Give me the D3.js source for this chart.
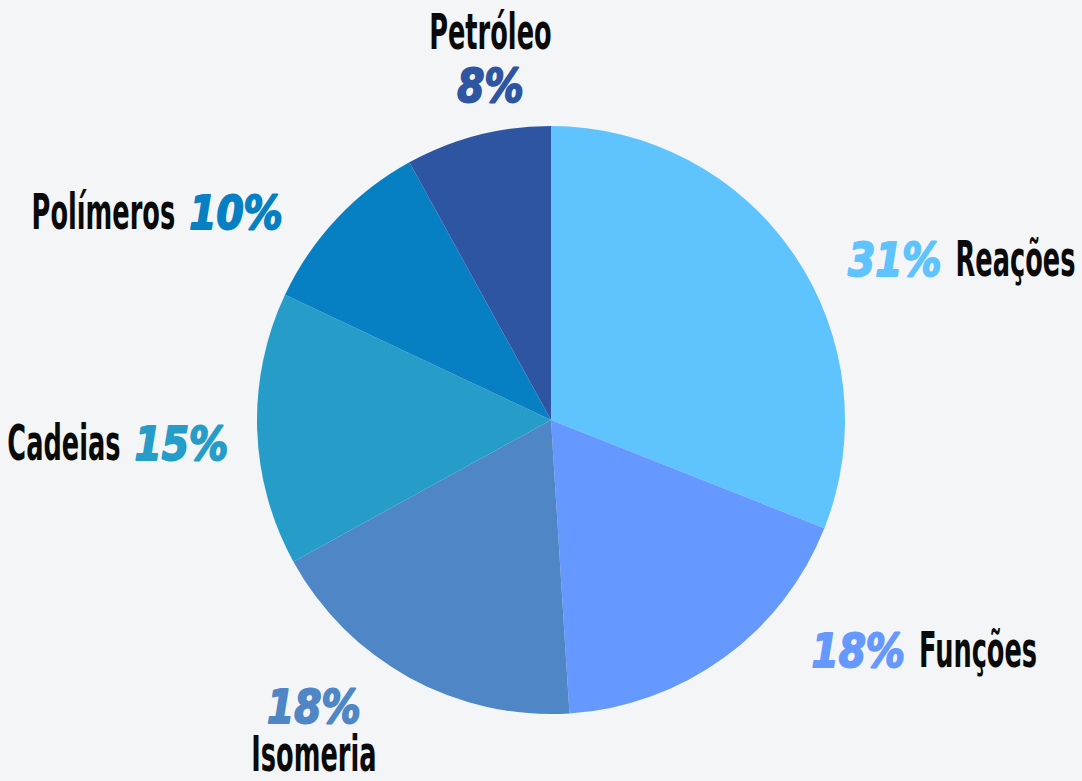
<!DOCTYPE html>
<html>
<head>
<meta charset="utf-8">
<script src="https://cdn.jsdelivr.net/npm/d3@7"></script>
<style>
  html, body { margin: 0; padding: 0; background: #f4f5f6; }
  svg { display: block; }
  .name { font-family: "DejaVu Sans Condensed", "DejaVu Sans", sans-serif; font-weight: bold; font-stretch: condensed; fill: #0a0a0a; }
  .pct { font-family: "DejaVu Sans", sans-serif; font-weight: bold; font-style: italic; }
</style>
</head>
<body>
<div id="chart"></div>
<script>
const categories = ["Reações", "Funções", "Isomeria", "Cadeias", "Polímeros", "Petróleo"];
const values = [31, 18, 18, 15, 10, 8];
const colors = ["#5fc3fe", "#6699ff", "#4f86c6", "#269dc8", "#0780c3", "#2e55a2"];

// how each label sits next to its slice
const labelLayout = {
	"Reações":   {mode: "pct-name", align: "start",  dx: 29,  dy: 38},
	"Funções":   {mode: "pct-name", align: "start",  dx: 70,  dy: -15},
	"Isomeria":  {mode: "pct-over", align: "middle", dx: -81, dy: 19, gap: 48},
	"Cadeias":   {mode: "name-pct", align: "end",    dx: 1,   dy: 30},
	"Polímeros": {mode: "name-pct", align: "end",    dx: -32, dy: 31},
	"Petróleo":  {mode: "name-over", align: "middle", dx: 20, dy: -4, gap: 53}
};

const width = 1082, height = 781;
const cx = 551, cy = 420, radius = 294;
const nameSize = 50, nameScale = 0.57;
const pctSize = 46, pctScale = 0.85;
const gap = 14;

const data = categories.map((c, i) => ({name: c, value: values[i], color: colors[i]}));

const svg = d3.select("#chart")
	.append("svg")
	.attr("width", width)
	.attr("height", height);

const pie = d3.pie().sort(null).value(d => d.value);
const arc = d3.arc().innerRadius(0).outerRadius(radius);
const arcs = pie(data);

const g = svg.append("g").attr("transform", `translate(${cx},${cy})`);

g.selectAll("path")
	.data(arcs).enter()
	.append("path")
	.attr("d", arc)
	.attr("fill", d => d.data.color);

const labelRadius = radius + 30;

arcs.forEach(d => {
	const lay = labelLayout[d.data.name];
	const a = (d.startAngle + d.endAngle) / 2;
	const x = cx + labelRadius * Math.sin(a) + lay.dx;
	const y = cy - labelRadius * Math.cos(a) + lay.dy;

	const name = svg.append("text")
		.attr("class", "name")
		.attr("font-size", nameSize)
		.text(d.data.name);
	const pct = svg.append("text")
		.attr("class", "pct")
		.attr("font-size", pctSize)
		.attr("fill", d.data.color)
		.attr("stroke", d.data.color)
		.attr("stroke-width", 2)
		.attr("stroke-linejoin", "round")
		.text(d.data.value + "%");

	const nw = name.node().getComputedTextLength() * nameScale;
	const pw = pct.node().getComputedTextLength() * pctScale;

	const place = (sel, left, base, s) =>
		sel.attr("transform", `translate(${left},${base}) scale(${s},1)`);

	if (lay.mode === "pct-name" || lay.mode === "name-pct") {
		const total = nw + gap + pw;
		let left = lay.align === "start" ? x : lay.align === "end" ? x - total : x - total / 2;
		if (lay.mode === "pct-name") {
			place(pct, left, y, pctScale);
			place(name, left + pw + gap, y, nameScale);
		} else {
			place(name, left, y, nameScale);
			place(pct, left + nw + gap, y, pctScale);
		}
	} else if (lay.mode === "pct-over") {
		place(pct, x - pw / 2, y, pctScale);
		place(name, x - nw / 2, y + lay.gap, nameScale);
	} else {
		place(name, x - nw / 2, y - lay.gap, nameScale);
		place(pct, x - pw / 2, y, pctScale);
	}
});
</script>
</body>
</html>
